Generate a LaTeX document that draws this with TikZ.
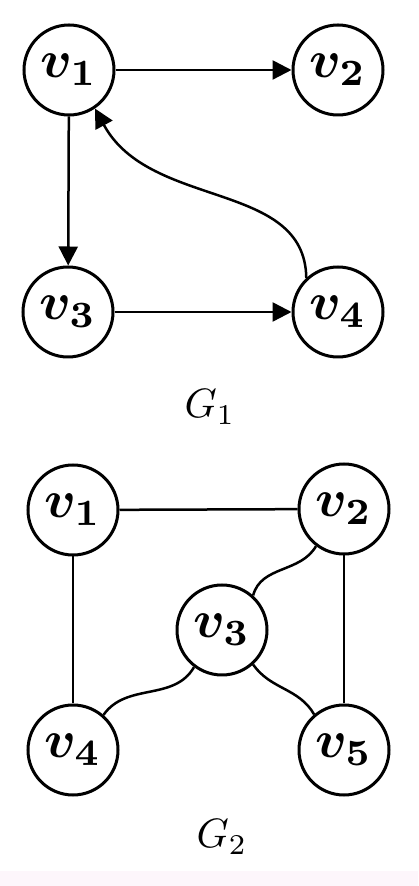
\documentclass[tikz,border=0pt]{standalone}
\usepackage{amsmath,bm,graphicx}
\usetikzlibrary{arrows.meta}
\newcommand{\vlab}[1]{\scalebox{5.3}{$\bm{v}_{\mathbf{#1}}$}}
\newcommand{\glab}[1]{\scalebox{4.1}{$G_{#1}$}}
\begin{document}
\begin{tikzpicture}[x=1pt,y=1pt,
  vert/.style={circle,draw,line width=3pt,minimum size=90pt,inner sep=0pt},
  edge/.style={line width=2.5pt},
  arr/.style={edge,-{Triangle[length=19pt,width=19pt]}},
  glabel/.style={inner sep=0pt}]
\useasboundingbox (0,0) rectangle (418,886);
\fill[fill={rgb,255:red,253;green,246;blue,251}] (0,0) rectangle (418,15);
% G1
\node[vert] (a1) at (69,816) {\vlab{1}};
\node[vert] (a2) at (338,816) {\vlab{2}};
\node[vert] (a3) at (68,574) {\vlab{3}};
\node[vert] (a4) at (338,574) {\vlab{4}};
\node[glabel] (g1) at (210,479) {\glab{1}};
\draw[arr] (a1) -- (a2);
\draw[arr] (a1) -- (a3);
\draw[arr] (a3) -- (a4);
\draw[arr] (a4.133) .. controls (305,706) and (150,676) .. (a1.-56);
% G2
\node[vert] (b1) at (73,376) {\vlab{1}};
\node[vert] (b2) at (344,377) {\vlab{2}};
\node[vert] (b3) at (222,256) {\vlab{3}};
\node[vert] (b4) at (73,136) {\vlab{4}};
\node[vert] (b5) at (344,136) {\vlab{5}};
\node[glabel] (g2) at (222,49) {\glab{2}};
\draw[edge] (b1) -- (b2);
\draw[edge] (b1) -- (b4);
\draw[edge] (b2) -- (b5);
\draw[edge] (b3.48) to[out=75,in=-120] (b2.-127);
\draw[edge] (b3.-127) to[out=-120,in=55] (b4.49);
\draw[edge] (b3.-48) to[out=-55,in=120] (b5.130);
\end{tikzpicture}
\end{document}
